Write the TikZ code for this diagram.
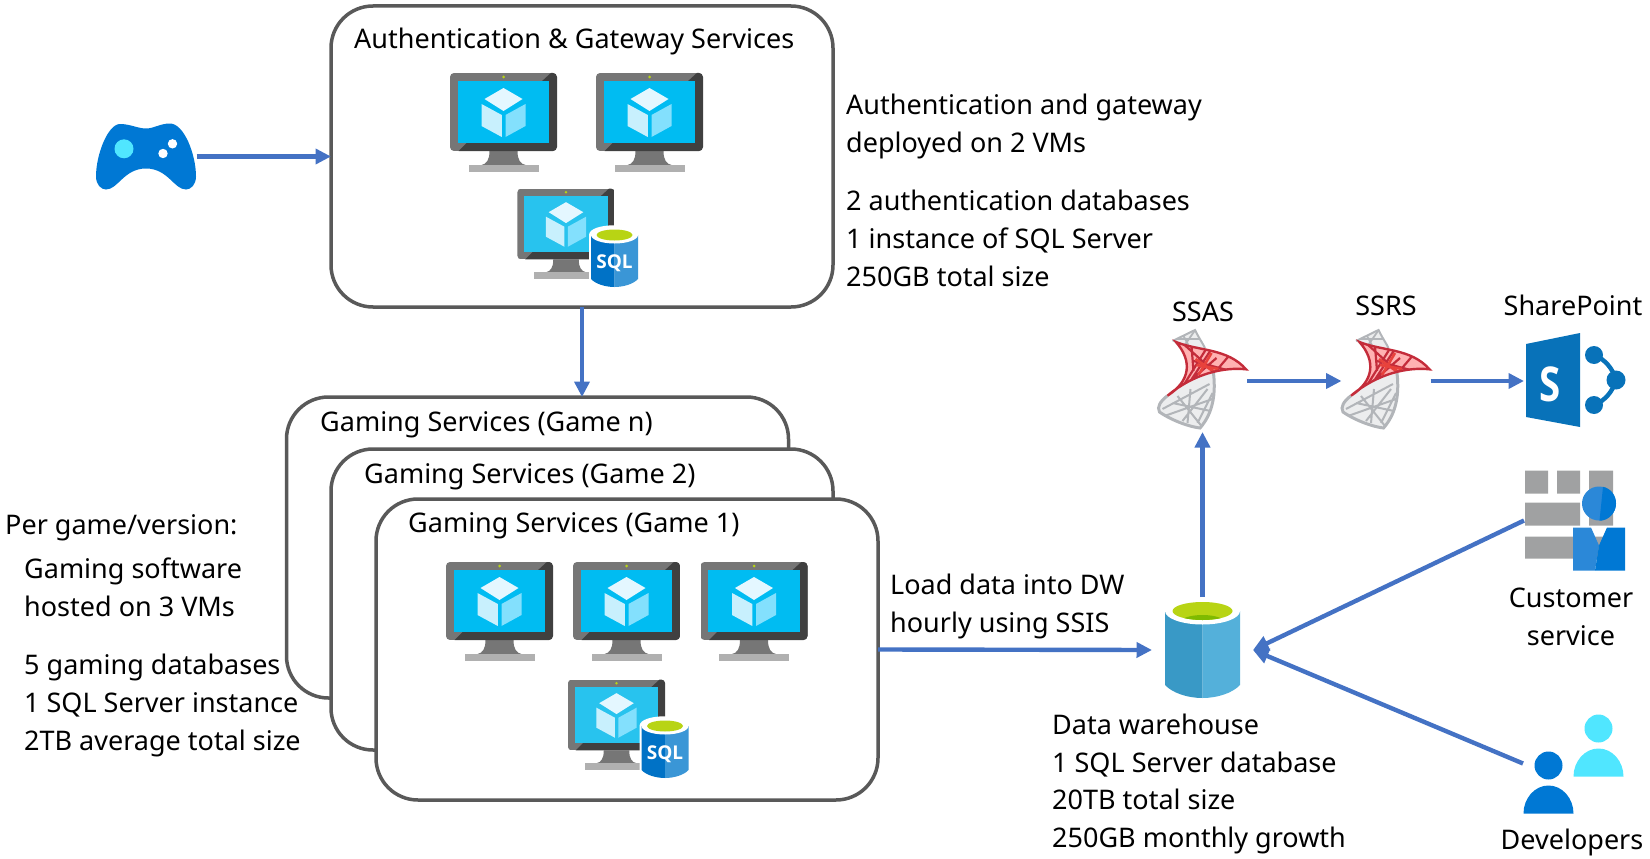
\documentclass[tikz,border=0pt]{standalone}
\usepackage{fontspec}
\setmainfont{Noto Sans}
\newfontfamily\iconfont{Open Sans}
\usetikzlibrary{arrows.meta}
\definecolor{flowblue}{RGB}{68,114,196}
\definecolor{boxgray}{RGB}{89,89,89}
\definecolor{framegray}{RGB}{118,118,118}
\definecolor{framedark}{RGB}{64,64,64}
\definecolor{basegray}{RGB}{176,176,176}
\definecolor{vmscreen}{RGB}{0,188,242}
\definecolor{sqlscreen}{RGB}{40,195,238}
\definecolor{cubetop}{RGB}{228,247,255}
\definecolor{cubeleft}{RGB}{200,240,253}
\definecolor{cuberight}{RGB}{131,224,253}
\definecolor{iconblue}{RGB}{0,120,212}
\definecolor{iconlight}{RGB}{43,136,216}
\definecolor{iconcyan}{RGB}{80,230,255}
\definecolor{sqlblue}{RGB}{0,114,198}
\definecolor{sqlblue2}{RGB}{58,150,214}
\definecolor{dwblue}{RGB}{57,153,198}
\definecolor{dwblue2}{RGB}{84,176,218}
\definecolor{limegreen}{RGB}{184,212,20}
\definecolor{deepgreen}{RGB}{127,186,0}
\definecolor{spblue}{RGB}{8,114,185}
\definecolor{brickgray}{RGB}{160,161,162}
\definecolor{towerred}{RGB}{196,44,58}
\definecolor{towerbright}{RGB}{232,66,60}
\definecolor{towergray}{RGB}{178,181,185}
\definecolor{towerpale}{RGB}{236,237,238}
\tikzset{>={Triangle[length=15.5pt,width=15pt]}}
\tikzstyle{flowline}=[draw=flowblue,line width=4.4pt,->]
\tikzstyle{servicebox}=[draw=boxgray,fill=white,line width=3.5pt,rounded corners=42pt,
  minimum width=502pt,minimum height=301pt,outer sep=0pt,inner sep=0pt]
\tikzstyle{infotext}=[anchor=base west,align=left,inner sep=0pt,
  font=\fontsize{27}{37.6}\selectfont]
\tikzstyle{icontext}=[anchor=base,align=center,inner sep=0pt,
  font=\fontsize{27}{37.6}\selectfont]
\tikzstyle{iconbox}=[inner sep=0pt,outer sep=0pt]
\tikzset{
  vmicon/.pic={
    \fill[framegray] (-14,39) .. controls (-14,48) and (-17,52) .. (-22,53)
      -- (22,53) .. controls (17,52) and (14,48) .. (14,39) -- cycle;
    \fill[basegray] (-35,53) rectangle (35,60);
    \begin{scope}
      \clip[rounded corners=4pt] (-53.5,-39) rectangle (53.5,39);
      \fill[framegray] (-53.5,-39) rectangle (53.5,39);
      \fill[framedark] (38.3,-30.7) -- (47.3,-39) -- (53.5,-39) -- (53.5,39)
        -- (-45,39) -- (-36.7,30.7) -- (45.7,30.7) -- (45.7,-30.7) -- cycle;
    \end{scope}
    \fill[vmscreen] (-45.7,-30.7) rectangle (45.7,30.7);
    \fill[limegreen] (0,-35) circle (1.5);
    \fill[cubetop] (0,-24) -- (19,-13) -- (0,-1) -- (-19,-13) -- cycle;
    \fill[cubeleft] (-22,-8) -- (-1.7,3) -- (-1.7,25) -- (-22,14) -- cycle;
    \fill[cuberight] (2,3) -- (22,-8) -- (22,14) -- (2,25) -- cycle;
  },
  sqlvmicon/.pic={
    \colorlet{vmscreen}{sqlscreen}
    \pic[scale=0.91] {vmicon};
    \begin{scope}[shift={(48.5,33)}]
      \fill[white] (-25.5,-22) -- (-25.5,23) .. controls (-20,33) and (20,33) .. (25.5,23)
        -- (25.5,-22) .. controls (25.5,-35) and (-25.5,-35) .. (-25.5,-22) -- cycle;
      \fill[sqlblue] (-23.5,-22) -- (-23.5,22) .. controls (-19,27) and (-9,30) .. (0,30)
        -- (0,-22) -- cycle;
      \fill[sqlblue2] (23.5,-22) -- (23.5,22) .. controls (19,27) and (9,30) .. (0,30)
        -- (0,-22) -- cycle;
      \fill[white] (0,-22) ellipse (23.5 and 8.5);
      \fill[limegreen] (0,-22) ellipse (18 and 5.5);
      \node[inner sep=0pt,text=white,font=\fontsize{19}{19}\iconfont\bfseries] (-sql) at (0,6) {SQL};
    \end{scope}
  },
  gamepad/.pic={
    \fill[iconblue] (-26,-32.5) .. controls (-16,-32.5) and (-8,-28) .. (0,-28)
      .. controls (8,-28) and (14,-33) .. (24,-33)
      .. controls (38,-33) and (50,-2) .. (50,20)
      .. controls (50,28) and (45,33) .. (40,33)
      .. controls (28,33) and (22,12) .. (0,12)
      .. controls (-22,12) and (-28,33) .. (-40,33)
      .. controls (-45,33) and (-50,28) .. (-50,20)
      .. controls (-50,-2) and (-38,-32.5) .. (-26,-32.5) -- cycle;
    \fill[iconcyan] (-22,-7.7) circle (9.5);
    \fill[white] (26.5,-12.7) circle (4.7);
    \fill[white] (17,-3) circle (4.7);
  },
  sqltower/.pic={
    % grey lower part
    \begin{scope}
      \clip (-35,14.7) .. controls (-42,20) and (-46,26) .. (-43,31)
        .. controls (-30,40) and (-12,46) .. (-2.5,47)
        .. controls (8,35) and (14,18) .. (11,-8) -- (-12,-6) -- cycle;
      \fill[towerpale] (-50,-10) rectangle (20,50);
      \draw[towergray,line width=2pt] (-40,28) -- (7,3) (-38,35) -- (10,18) (-15,42) -- (-12,8)
        (-1,45) -- (-25,15) (8,30) -- (-30,22) (5,8) -- (-20,40) (10,12) -- (-5,42);
    \end{scope}
    \draw[towergray,line width=3pt] (-35,14.7) .. controls (-42,20) and (-46,26) .. (-43,31)
      .. controls (-30,40) and (-12,46) .. (-2.5,47) .. controls (8,35) and (14,18) .. (11,-8);
    % grey top part
    \begin{scope}
      \clip (-30,-40) -- (-7.5,-51) .. controls (-3,-42) and (0,-38) .. (2.5,-33) -- (-20,-30) -- cycle;
      \fill[towerpale] (-32,-52) rectangle (5,-25);
      \draw[towergray,line width=1.8pt] (-28,-42) -- (-1,-42) (-20,-47) -- (-10,-28) (-8,-50) -- (-22,-30);
    \end{scope}
    \draw[towergray,line width=2pt] (-30,-40) -- (-7.5,-51) .. controls (-3,-42) and (0,-38) .. (2.5,-33);
    % red part
    \begin{scope}
      \clip (-26.5,-39) .. controls (-5,-30) and (25,-33) .. (43.5,-11.7)
        .. controls (22,-14) and (-8,-8) .. (-35,14.7)
        .. controls (-12,0) and (-10,-20) .. (-26.5,-39) -- cycle;
      \fill[red!30] (-40,-42) rectangle (50,20);
      \draw[towerred,line width=2.2pt] (-19,-37) -- (14,-7) (9,-32) -- (-12,0) (28,-27) -- (11,-7)
        (-11,-35) -- (-9,-10) (-9,-20) -- (28,-10) (-16,3) -- (14,-23) (-20,6) -- (3,-31);
      \draw[towerbright,line width=2.6pt] (-7,-22) -- (13,-8) (9,-28) -- (-4,-6) (-6,-16) -- (16,-12);
    \end{scope}
    \draw[towerred,line width=2.4pt] (-26.5,-39) .. controls (-5,-30) and (25,-33) .. (43.5,-11.7)
      .. controls (22,-14) and (-8,-8) .. (-35,14.7)
      .. controls (-12,0) and (-10,-20) .. (-26.5,-39) -- cycle;
  },
  sharepointicon/.pic={
    \draw[spblue,line width=4.4pt] (19,-26) .. controls (30,-22) and (38,-12) .. (41,-1)
      .. controls (38,10) and (30,20) .. (19,24);
    \fill[spblue] (19,-26) circle (9) (41,-1) circle (9.5) (19,24) circle (9);
    \fill[spblue] (-49,-37) -- (5,-48) -- (5,46) -- (-49,36) -- cycle;
    \node[inner sep=0pt,text=white,font=\fontsize{48}{48}\iconfont\bfseries] (-s) at (-25,3) {\scalebox{0.8}[1]{S}};
  },
  serviceicon/.pic={
    \fill[brickgray] (-50,-50) rectangle (-27,-27) (-18,-50) rectangle (5,-27)
      (14,-50) rectangle (38,5) (-50,-18) rectangle (5,5) (-50,16) rectangle (38,38);
    \fill[iconlight] (24,-17) circle (17);
    \fill[iconblue] (28,-33.7) .. controls (36,-32) and (41,-25) .. (41,-17)
      .. controls (41,-8) and (34,0) .. (24.5,0.3) -- cycle;
    \fill[iconlight] (-2,7) -- (16,7) -- (24,25) -- (20,50) -- (-2,50) -- cycle;
    \fill[iconblue] (24,25) -- (32,7) -- (50,7) -- (50,50) -- (20,50) -- cycle;
  },
  developericon/.pic={
    \fill[iconcyan] (25,-35) circle (14);
    \fill[iconcyan] (0,13) .. controls (0,-2) and (11,-15) .. (25,-15)
      .. controls (39,-15) and (50,-2) .. (50,13) -- cycle;
    \fill[iconblue] (-25,2) circle (14);
    \fill[iconblue] (-50,50) .. controls (-50,35) and (-39,22) .. (-25,22)
      .. controls (-11,22) and (0,35) .. (0,50) -- cycle;
  },
  dwcylinder/.pic={
    \fill[dwblue] (-37.5,-39) -- (-37.5,35) .. controls (-30,43) and (-15,48) .. (0,48) -- (0,-39) -- cycle;
    \fill[dwblue2] (37.5,-39) -- (37.5,35) .. controls (30,43) and (15,48) .. (0,48) -- (0,-39) -- cycle;
    \fill[white] (0,-39) ellipse (37.5 and 13.5);
    \fill[limegreen] (0,-39) ellipse (30 and 9);
    \begin{scope}
      \clip (0,-39) ellipse (30 and 9);
      \fill[deepgreen] (0,-27) ellipse (23 and 8);
    \end{scope}
  }
}
\begin{document}
\begin{tikzpicture}[x=1pt,y=-1pt]
    \useasboundingbox (0,0) rectangle (1650,859);

    \node[servicebox] (authbox) at (582,156.5) {};
    \node[servicebox] (gamen) at (537.5,547.5) {};
    \node[servicebox] (gametwo) at (582,599.5) {};
    \node[servicebox] (gameone) at (627,649.5) {};

    \node[infotext] (authtitle) at (354,49) {Authentication \& Gateway Services};
    \node[infotext] (gamentitle) at (320,431) {Gaming Services (Game n)};
    \node[infotext] (gametwotitle) at (364,483) {Gaming Services (Game 2)};
    \node[infotext] (gameonetitle) at (408,532) {Gaming Services (Game 1)};

    \pic at (503.5,112) {vmicon};
    \pic at (649.5,112) {vmicon};
    \pic at (566,224) {sqlvmicon};
    \pic at (499.5,601) {vmicon};
    \pic at (626.5,601) {vmicon};
    \pic at (754,601) {vmicon};
    \pic at (616.5,715) {sqlvmicon};

    \node[iconbox,minimum width=101pt,minimum height=67pt] (pad) at (146,156.5) {};
    \pic at (pad) {gamepad};
    \node[iconbox,minimum width=101pt,minimum height=106pt] (dw) at (1202.5,650) {};
    \pic at (dw) {dwcylinder};
    \node[iconbox,minimum width=89pt,minimum height=102pt] (ssas) at (1202.5,381) {};
    \pic at (ssas) {sqltower};
    \node[iconbox,minimum width=89pt,minimum height=102pt] (ssrs) at (1386,381) {};
    \pic at (ssrs) {sqltower};
    \node[iconbox,minimum width=102pt,minimum height=96pt] (sharepoint) at (1575,381) {};
    \pic at (sharepoint) {sharepointicon};
    \node[iconbox,minimum width=102pt,minimum height=101pt] (custservice) at (1575,520.5) {};
    \pic at (custservice) {serviceicon};
    \node[iconbox,minimum width=101pt,minimum height=101pt] (developers) at (1573.5,763.5) {};
    \pic at (developers) {developericon};

    \draw[flowline] (pad) -- (authbox.west);
    \draw[flowline] (authbox.south) -- (authbox.south |- gamen.north);
    \draw[flowline] (gameone.east) -- (dw.west);
    \draw[flowline] (dw.north) -- (ssas.south);
    \draw[flowline] (ssas.east) -- (ssrs.west);
    \draw[flowline] (ssrs.east) -- (sharepoint.west);
    \draw[flowline] (custservice.west) -- (dw.east);
    \draw[flowline] (developers.west) -- (dw.east);

    \node[infotext] (authnote) at (846,152) {Authentication and gateway\\deployed on 2 VMs};
    \node[infotext] (authdb) at (846,286) {2 authentication databases\\1 instance of SQL Server\\250GB total size};
    \node[infotext] (loadnote) at (890,632.5) {Load data into DW\\hourly using SSIS};
    \node[infotext] (dwnote) at (1052,847.5) {Data warehouse\\1 SQL Server database\\20TB total size\\250GB monthly growth};
    \node[infotext] (pergame) at (5,534) {Per game/version:};
    \node[infotext] (gamingsw) at (24,616.5) {Gaming software\\hosted on 3 VMs};
    \node[infotext] (gamingdb) at (24,750) {5 gaming databases\\1 SQL Server instance\\2TB average total size};

    \node[icontext] (ssaslabel) at (1203,321) {SSAS};
    \node[icontext] (ssrslabel) at (1386,315) {SSRS};
    \node[icontext] (sharelabel) at (1573,315) {SharePoint};
    \node[icontext] (custlabel) at (1571,645) {Customer\\service};
    \node[icontext] (devlabel) at (1572,849) {Developers};
\end{tikzpicture}
\end{document}
